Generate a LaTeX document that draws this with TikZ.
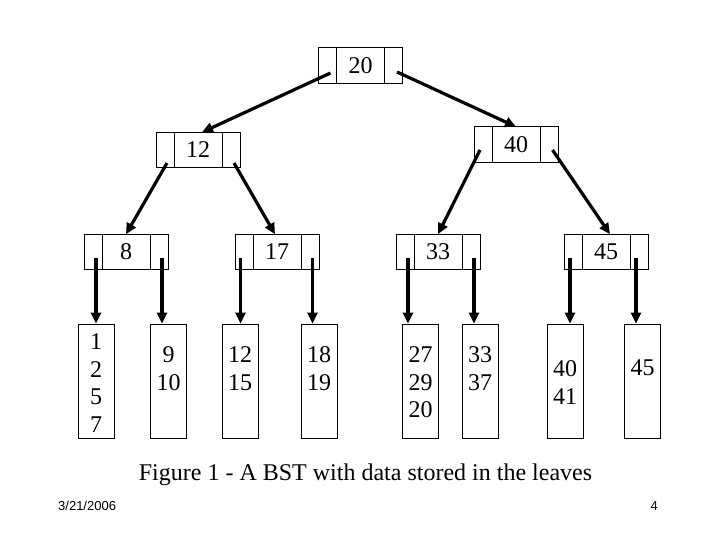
\documentclass[tikz,border=0pt]{standalone}
\usepackage{fontspec}
\setmainfont{Liberation Serif}
\newfontfamily\footfont{Liberation Sans}
\usetikzlibrary{positioning,arrows.meta,calc}

\tikzset{
  key/.style={draw, line width=0.8pt, minimum width=48pt, minimum height=35.5pt, inner sep=0pt, outer sep=0pt, font=\fontsize{24}{28}\selectfont},
  side/.style={draw, line width=0.8pt, minimum width=18pt, minimum height=35.5pt, inner sep=0pt, outer sep=0pt},
  leaf/.style={draw, line width=0.8pt, minimum width=36pt, minimum height=114pt, inner sep=0pt},
  vals/.style={align=center, inner sep=0pt, font=\fontsize{24}{27.5}\selectfont},
  ptr/.style={line width=3.2pt, -{Triangle[length=11pt,width=10pt]}}
}

\begin{document}
\begin{tikzpicture}[x=1pt,y=-1pt]
   \useasboundingbox (0,0) rectangle (720,540);

   \node (n20) at (360.5,65.5) [key] {20};
   \node (n20l) [side, left=0pt of n20] {};
   \node (n20r) [side, right=0pt of n20] {};

   \node (n12) at (198,150) [key] {12};
   \node (n12l) [side, left=0pt of n12] {};
   \node (n12r) [side, right=0pt of n12] {};

   \node (n40) at (516,144.5) [key] {40};
   \node (n40l) [side, left=0pt of n40] {};
   \node (n40r) [side, right=0pt of n40] {};

   \node (n8) at (126,252) [key] {8};
   \node (n8l) [side, left=0pt of n8] {};
   \node (n8r) [side, right=0pt of n8] {};

   \node (n17) at (277,252) [key] {17};
   \node (n17l) [side, left=0pt of n17] {};
   \node (n17r) [side, right=0pt of n17] {};

   \node (n33) at (438,252) [key] {33};
   \node (n33l) [side, left=0pt of n33] {};
   \node (n33r) [side, right=0pt of n33] {};

   \node (n45) at (606,252) [key] {45};
   \node (n45l) [side, left=0pt of n45] {};
   \node (n45r) [side, right=0pt of n45] {};

   \node (l1) at (96,381) [leaf] {};
   \node (l2) at (168.5,381) [leaf] {};
   \node (l3) at (240,381) [leaf] {};
   \node (l4) at (319,381) [leaf] {};
   \node (l5) at (420.5,381) [leaf] {};
   \node (l6) at (480,381) [leaf] {};
   \node (l7) at (565,381) [leaf] {};
   \node (l8) at (642.5,381) [leaf] {};

   \node (t1) at (96,383) [vals] {1\\2\\5\\7};
   \node (t2) at (168.5,368.5) [vals] {9\\10};
   \node (t3) at (240,368.5) [vals] {12\\15};
   \node (t4) at (319,368.5) [vals] {18\\19};
   \node (t5) at (420.5,382.5) [vals] {27\\29\\20};
   \node (t6) at (480,368.5) [vals] {33\\37};
   \node (t7) at (565,382.5) [vals] {40\\41};
   \node (t8) at (642.5,368) [vals] {45};

   \draw [ptr] ($(n20l)+(3,7.5)$) -- ($(n12.north)+(4,0)$);
   \draw [ptr] ($(n20r)+(3.5,6.5)$) -- (n40.north);

   \draw [ptr] ($(n12l)+(2,13)$) -- (n8.north);
   \draw [ptr] ($(n12r)+(3,13)$) -- ($(n17.north)+(-2,0)$);

   \draw [ptr] ($(n40l)+(-3,5.5)$) -- (n33.north);
   \draw [ptr] ($(n40r)+(3.5,5.5)$) -- ($(n45.north)+(4,0)$);

   \coordinate (s1) at ($(n8l)+(3,6)$);
   \coordinate (s2) at ($(n8r)+(3,6)$);
   \coordinate (s3) at ($(n17l)+(-3.5,6)$);
   \coordinate (s4) at ($(n17r)+(2.5,6)$);
   \coordinate (s5) at ($(n33l)+(3,6)$);
   \coordinate (s6) at ($(n33r)+(3,6)$);
   \coordinate (s7) at ($(n45l)+(-3,6)$);
   \coordinate (s8) at ($(n45r)+(-3,6)$);

   \draw [ptr] (s1) -- (s1 |- l1.north);
   \draw [ptr] (s2) -- (s2 |- l2.north);
   \draw [ptr] (s3) -- (s3 |- l3.north);
   \draw [ptr] (s4) -- (s4 |- l4.north);
   \draw [ptr] (s5) -- (s5 |- l5.north);
   \draw [ptr] (s6) -- (s6 |- l6.north);
   \draw [ptr] (s7) -- (s7 |- l7.north);
   \draw [ptr] (s8) -- (s8 |- l8.north);

   \node (cap) at (365.5,480) [anchor=base, inner sep=0pt, font=\fontsize{24}{28}\selectfont] {Figure 1 - A BST with data stored in the leaves};
   \node (date) at (58,510) [anchor=base west, inner sep=0pt, font=\footfont\fontsize{13}{15}\selectfont] {3/21/2006};
   \node (page) at (658,510) [anchor=base east, inner sep=0pt, font=\footfont\fontsize{13}{15}\selectfont] {4};

\end{tikzpicture}
\end{document}
